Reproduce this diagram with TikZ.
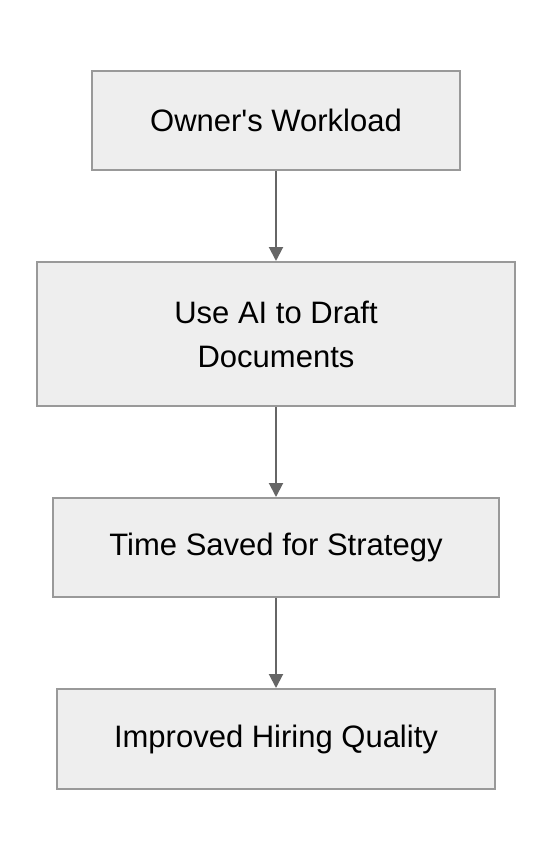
\documentclass[tikz,border=0pt]{standalone}
\usepackage{fontspec}
\setmainfont{Liberation Sans}
\usetikzlibrary{arrows.meta}
\definecolor{boxfill}{HTML}{EEEEEE}
\definecolor{boxline}{HTML}{999999}
\definecolor{arrowcol}{HTML}{666666}
\begin{document}
\begin{tikzpicture}[x=1pt,y=-1pt,
  flowbox/.style={draw=boxline,fill=boxfill,line width=2pt,inner sep=0pt,
    align=center,font=\fontsize{31}{44}\selectfont,text=black},
  flowarrow/.style={draw=arrowcol,line width=2pt,-{Triangle[length=14pt,width=14pt]}}]
\useasboundingbox (0,0) rectangle (552,860);
\node[flowbox,minimum width=368pt,minimum height=99pt] (a) at (276,120.5) {Owner\textquotesingle s Workload};
\node[flowbox,minimum width=478pt,minimum height=144pt] (b) at (276,334) {Use AI to Draft\\Documents};
\node[flowbox,minimum width=446pt,minimum height=99pt] (c) at (276,547.5) {Time Saved for Strategy};
\node[flowbox,minimum width=438pt,minimum height=100pt] (d) at (276,739) {Improved Hiring Quality};
\draw[flowarrow] (a) -- (b);
\draw[flowarrow] (b) -- (c);
\draw[flowarrow] (c) -- (d);
\end{tikzpicture}
\end{document}
